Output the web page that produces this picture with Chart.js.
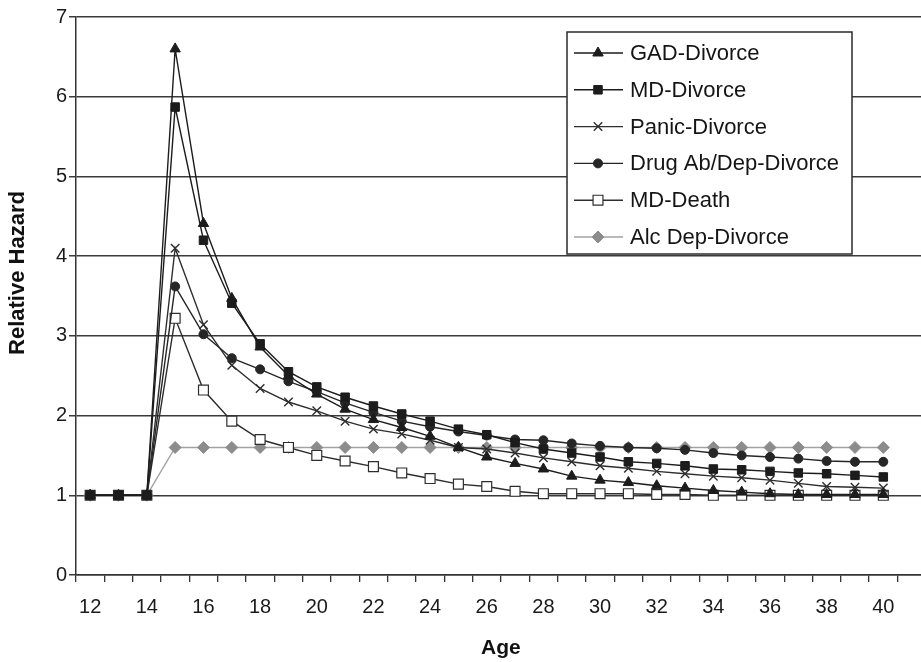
<!DOCTYPE html>
<html>
<head>
<meta charset="utf-8">
<script src="https://cdn.jsdelivr.net/npm/chart.js@4.4.1/dist/chart.umd.min.js"></script>
<style>
  html, body { margin: 0; padding: 0; background: #fff; overflow: hidden; }
</style>
</head>
<body>
<canvas id="grafico" width="934" height="662"></canvas>
<script>
// Edades (la última categoría queda sin dato ni etiqueta)
var edades = ['12','13','14','15','16','17','18','19','20','21','22','23','24','25','26',
              '27','28','29','30','31','32','33','34','35','36','37','38','39','40','41'];

// Riesgo relativo por edad, de 12 a 40 años
var gadDivorcio   = [1,1,1,6.6,4.41,3.47,2.86,2.5,2.27,2.08,1.95,1.85,1.74,1.6,1.48,1.4,1.33,1.24,1.19,1.16,1.12,1.09,1.06,1.04,1.02,1.01,1.01,1.01,1.01];
var mdDivorcio    = [1,1,1,5.87,4.2,3.41,2.9,2.55,2.36,2.23,2.12,2.02,1.93,1.83,1.76,1.66,1.58,1.53,1.48,1.42,1.4,1.37,1.33,1.32,1.3,1.28,1.27,1.25,1.23];
var panicoDivorcio = [1,1,1,4.1,3.14,2.63,2.34,2.17,2.06,1.93,1.83,1.77,1.69,1.6,1.58,1.53,1.47,1.42,1.37,1.34,1.3,1.27,1.24,1.22,1.19,1.15,1.11,1.1,1.09];
var drogaDivorcio = [1,1,1,3.62,3.02,2.72,2.58,2.43,2.3,2.16,2.04,1.93,1.86,1.8,1.75,1.7,1.69,1.65,1.62,1.6,1.59,1.57,1.53,1.5,1.48,1.46,1.43,1.42,1.42];
var mdMuerte      = [1,1,1,3.22,2.32,1.93,1.7,1.6,1.5,1.43,1.36,1.28,1.21,1.14,1.11,1.05,1.02,1.02,1.02,1.02,1.01,1.01,1.0,1.0,1.0,1.0,1.0,1.0,1.0];
var alcDivorcio   = [1,1,1,1.6,1.6,1.6,1.6,1.6,1.6,1.6,1.6,1.6,1.6,1.6,1.6,1.6,1.6,1.6,1.6,1.6,1.6,1.6,1.6,1.6,1.6,1.6,1.6,1.6,1.6];

var fuente = '"Liberation Sans", Arial, sans-serif';

// Leyenda dibujada dentro del área del gráfico, con caja blanca
var leyendaInterna = {
    id: 'leyendaInterna',
    afterDatasetsDraw: function(chart, args, opts) {
        var ctx = chart.ctx;
        ctx.save();
        ctx.fillStyle = '#fff';
        ctx.fillRect(opts.x, opts.y, opts.w, opts.h);
        ctx.strokeStyle = '#2a2a2a';
        ctx.lineWidth = 1.5;
        ctx.strokeRect(opts.x, opts.y, opts.w, opts.h);

        chart.data.datasets.forEach(function(ds, i) {
            var cy = opts.y + opts.primera + i * opts.paso;
            ctx.strokeStyle = ds.borderColor;
            ctx.lineWidth = ds.borderWidth;
            ctx.beginPath();
            ctx.moveTo(opts.x + 7, cy);
            ctx.lineTo(opts.x + 56, cy);
            ctx.stroke();

            ctx.fillStyle = ds.pointBackgroundColor;
            ctx.strokeStyle = ds.pointBorderColor;
            ctx.lineWidth = ds.pointBorderWidth;
            Chart.helpers.drawPoint(ctx, {
                pointStyle: ds.pointStyle,
                radius: ds.pointRadius,
                rotation: 0,
                borderWidth: ds.pointBorderWidth
            }, opts.x + 31, cy);

            ctx.fillStyle = '#151515';
            ctx.font = '22px ' + fuente;
            ctx.textBaseline = 'middle';
            ctx.textAlign = 'left';
            ctx.fillText(ds.label, opts.x + 63, cy + 1);
        });
        ctx.restore();
    }
};

// Título del eje Y, un poco por encima del centro del área
var tituloEjeY = {
    id: 'tituloEjeY',
    afterDraw: function(chart, args, opts) {
        var ctx = chart.ctx;
        ctx.save();
        ctx.translate(opts.x, opts.y);
        ctx.rotate(-Math.PI / 2);
        ctx.fillStyle = '#111';
        ctx.font = 'bold 22px ' + fuente;
        ctx.textAlign = 'center';
        ctx.textBaseline = 'middle';
        ctx.fillText(opts.texto, 0, 0);
        ctx.restore();
    }
};

function serie(etiqueta, datos, estilo, radio, linea, relleno, borde, anchoBorde) {
    return {
        label: etiqueta,
        data: datos,
        borderColor: linea,
        borderWidth: 1.4,
        pointStyle: estilo,
        pointRadius: radio,
        pointBackgroundColor: relleno,
        pointBorderColor: borde,
        pointBorderWidth: anchoBorde,
        tension: 0,
        fill: false
    };
}

var ctx = document.getElementById('grafico').getContext('2d');
var grafico = new Chart(ctx, {
    type: 'line',
    data: {
        labels: edades,
        datasets: [
            serie('GAD-Divorce', gadDivorcio, 'triangle', 6, '#1c1c1c', '#1c1c1c', '#1c1c1c', 1),
            serie('MD-Divorce', mdDivorcio, 'rect', 6, '#1c1c1c', '#1c1c1c', '#1c1c1c', 1),
            serie('Panic-Divorce', panicoDivorcio, 'crossRot', 6, '#2e2e2e', '#2e2e2e', '#2e2e2e', 1.4),
            serie('Drug Ab/Dep-Divorce', drogaDivorcio, 'circle', 4.5, '#262626', '#262626', '#262626', 1),
            serie('MD-Death', mdMuerte, 'rect', 7, '#2e2e2e', '#ffffff', '#2e2e2e', 1.2),
            serie('Alc Dep-Divorce', alcDivorcio, 'rectRot', 6, '#a2a2a2', '#8c8c8c', '#8c8c8c', 1)
        ]
    },
    options: {
        responsive: false,
        animation: false,
        devicePixelRatio: 1,
        layout: { padding: { top: 17, right: 0, bottom: 0, left: 0 } },
        plugins: {
            legend: { display: false },
            tooltip: { enabled: false },
            leyendaInterna: { x: 567, y: 32, w: 285, h: 222, primera: 21, paso: 36.8 },
            tituloEjeY: { x: 18, y: 273, texto: 'Relative Hazard' }
        },
        scales: {
            x: {
                type: 'category',
                offset: true,
                grid: { display: true, drawOnChartArea: false, drawTicks: true, tickLength: 7, color: '#333', lineWidth: 1.3, offset: true },
                border: { display: true, color: '#333', width: 1.5 },
                ticks: {
                    autoSkip: false,
                    maxRotation: 0,
                    padding: 13,
                    color: '#1a1a1a',
                    font: { family: fuente, size: 20 },
                    callback: function(valor) {
                        var e = this.getLabelForValue(valor);
                        return (Number(e) % 2 === 0 && e !== '41') ? e : '';
                    }
                },
                title: { display: true, text: 'Age', color: '#111', font: { family: fuente, size: 21, weight: 'bold' }, padding: { top: 1, bottom: 1 } },
                afterFit: function(escala) { escala.height = 87; }
            },
            y: {
                min: 0,
                max: 7,
                ticks: { stepSize: 1, padding: 2, color: '#1a1a1a', font: { family: fuente, size: 20 } },
                grid: { color: '#3a3a3a', lineWidth: 1.5, tickLength: 7 },
                border: { display: true, color: '#333', width: 1.5 },
                afterFit: function(escala) { escala.width = 76; }
            }
        }
    },
    plugins: [leyendaInterna, tituloEjeY]
});
</script>
</body>
</html>
